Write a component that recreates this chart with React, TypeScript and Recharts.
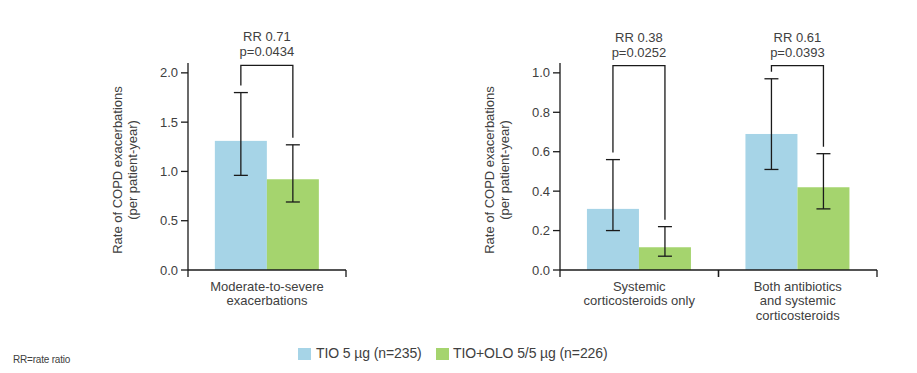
import { BarChart, Bar, XAxis, YAxis, ErrorBar } from 'recharts'

// Left panel: moderate-to-severe exacerbations
const leftCategories = [['Moderate-to-severe', 'exacerbations']]
const leftTio = [1.31]
const leftTioLow = [0.96]
const leftTioHigh = [1.8]
const leftOlo = [0.92]
const leftOloLow = [0.69]
const leftOloHigh = [1.27]
const leftRR = ['RR 0.71']
const leftP = ['p=0.0434']
const leftBracket = [2.075]
const leftTicks = [0, 0.5, 1.0, 1.5, 2.0]

// Right panel: by treatment of exacerbation
const rightCategories = [
  ['Systemic', 'corticosteroids only'],
  ['Both antibiotics', 'and systemic', 'corticosteroids'],
]
const rightTio = [0.31, 0.69]
const rightTioLow = [0.2, 0.51]
const rightTioHigh = [0.56, 0.97]
const rightOlo = [0.115, 0.42]
const rightOloLow = [0.07, 0.31]
const rightOloHigh = [0.22, 0.59]
const rightRR = ['RR 0.38', 'RR 0.61']
const rightP = ['p=0.0252', 'p=0.0393']
const rightBracket = [1.037, 1.037]
const rightTicks = [0, 0.2, 0.4, 0.6, 0.8, 1.0]

const legendLabels = ['TIO 5 µg (n=235)', 'TIO+OLO 5/5 µg (n=226)']

const BLUE = '#a6d4e7'
const GREEN = '#a5d46e'
const TEXT = '#404040'
const AXIS = '#1a1a1a'
const FONT = "'Liberation Sans', Arial, Helvetica, sans-serif"

function buildRows(
  cats: string[][], tio: number[], tioLo: number[], tioHi: number[],
  olo: number[], oloLo: number[], oloHi: number[],
  rr: string[], p: string[], bracket: number[],
) {
  return cats.map((c, i) => ({
    name: c.join('\n'),
    tio: tio[i],
    olo: olo[i],
    tioErr: [tio[i] - tioLo[i], tioHi[i] - tio[i]],
    oloErr: [olo[i] - oloLo[i], oloHi[i] - olo[i]],
    tioHigh: tioHi[i],
    oloHigh: oloHi[i],
    rr: rr[i],
    p: p[i],
    bracket: bracket[i],
  }))
}

const leftData = buildRows(leftCategories, leftTio, leftTioLow, leftTioHigh, leftOlo, leftOloLow, leftOloHigh, leftRR, leftP, leftBracket)
const rightData = buildRows(rightCategories, rightTio, rightTioLow, rightTioHigh, rightOlo, rightOloLow, rightOloHigh, rightRR, rightP, rightBracket)

// blue bar + significance bracket spanning both bars of the group
function BracketBar(props: any) {
  const { x, y, width, height, payload, fill } = props
  const scale = height / payload.tio
  const base = y + height
  const py = (v: number) => base - v * scale
  const c1 = x + width / 2
  const c2 = x + width * 1.5
  const mid = x + width
  const top = py(payload.bracket)
  const leg1 = py(payload.tioHigh) - 7
  const leg2 = py(payload.oloHigh) - 7
  return (
    <g>
      <rect x={x} y={y} width={width} height={height} fill={fill} />
      <path d={`M${c1},${leg1}V${top}H${c2}V${leg2}`} fill="none" stroke={AXIS} strokeWidth={1.3} />
      <text x={mid} y={top - 24} textAnchor="middle" fontSize={13} fill={TEXT} fontFamily={FONT}>{payload.rr}</text>
      <text x={mid} y={top - 9} textAnchor="middle" fontSize={13} fill={TEXT} fontFamily={FONT}>{payload.p}</text>
    </g>
  )
}

function CategoryTick(props: any) {
  const { x, payload, band, axisY } = props
  const lines = String(payload.value).split('\n')
  return (
    <g>
      <line x1={x - band / 2} x2={x - band / 2} y1={axisY} y2={axisY + 7} stroke={AXIS} strokeWidth={1.3} />
      <line x1={x + band / 2} x2={x + band / 2} y1={axisY} y2={axisY + 7} stroke={AXIS} strokeWidth={1.3} />
      {lines.map((l, i) => (
        <text key={i} x={x} y={axisY + 20.5 + i * 14.8} textAnchor="middle" fontSize={13} fill={TEXT} fontFamily={FONT}>
          {l}
        </text>
      ))}
    </g>
  )
}

function YTitle(props: any) {
  const vb = props.viewBox
  const cy = 170
  const left = vb.x + vb.width
  const x1 = left - 71
  const x2 = left - 56
  return (
    <g fontSize={13} fill={TEXT} fontFamily={FONT}>
      <text x={x1} y={cy} textAnchor="middle" dominantBaseline="central" transform={`rotate(-90, ${x1}, ${cy})`}>
        Rate of COPD exacerbations
      </text>
      <text x={x2} y={cy} textAnchor="middle" dominantBaseline="central" transform={`rotate(-90, ${x2}, ${cy})`}>
        (per patient-year)
      </text>
    </g>
  )
}

function Panel({ data, ticks, domainMax, width, marginLeft, marginRight }: any) {
  const height = 330
  const margin = { top: 63, right: marginRight, bottom: 10, left: marginLeft }
  const plotW = width - marginLeft - 60 - marginRight
  const band = plotW / data.length
  const axisY = height - margin.bottom - 50
  return (
    <BarChart width={width} height={height} data={data} margin={margin} barCategoryGap="17%" barGap={0}>
      <XAxis
        dataKey="name"
        height={50}
        interval={0}
        tickLine={false}
        axisLine={{ stroke: AXIS, strokeWidth: 1.3 }}
        tick={<CategoryTick band={band} axisY={axisY} />}
      />
      <YAxis
        width={60}
        domain={[0, domainMax]}
        ticks={ticks}
        tickFormatter={(v: number) => v.toFixed(1)}
        tickSize={7}
        tickMargin={3}
        tick={{ fontSize: 13, fill: TEXT, fontFamily: FONT }}
        tickLine={{ stroke: AXIS, strokeWidth: 1.3 }}
        axisLine={{ stroke: AXIS, strokeWidth: 1.3 }}
        label={{ content: <YTitle /> }}
      />
      <Bar dataKey="tio" fill={BLUE} isAnimationActive={false} shape={<BracketBar />}>
        <ErrorBar dataKey="tioErr" width={7} stroke={AXIS} strokeWidth={1.3} />
      </Bar>
      <Bar dataKey="olo" fill={GREEN} isAnimationActive={false}>
        <ErrorBar dataKey="oloErr" width={7} stroke={AXIS} strokeWidth={1.3} />
      </Bar>
    </BarChart>
  )
}

const legendText = { position: 'absolute' as const, top: -1, fontSize: 14, letterSpacing: -0.1, lineHeight: '16px', whiteSpace: 'nowrap' as const }
const swatch = { position: 'absolute' as const, top: 2, width: 13, height: 12 }

export default function App() {
  return (
    <div style={{ position: 'absolute', left: 0, top: 0, width: 917, height: 373, background: '#fff', fontFamily: FONT, color: TEXT }}>
      <div style={{ position: 'absolute', left: 0, top: 0 }}>
        <Panel data={leftData} ticks={leftTicks} domainMax={2.1} width={360} marginLeft={128} marginRight={14} />
      </div>
      <div style={{ position: 'absolute', left: 370, top: 0 }}>
        <Panel data={rightData} ticks={rightTicks} domainMax={1.05} width={530} marginLeft={130} marginRight={23} />
      </div>
      <div style={{ position: 'absolute', left: 298, top: 346, width: 330, height: 16 }}>
        <span style={{ ...swatch, left: 0, background: BLUE }} />
        <span style={{ ...legendText, left: 18 }}>{legendLabels[0]}</span>
        <span style={{ ...swatch, left: 138, background: GREEN }} />
        <span style={{ ...legendText, left: 155 }}>{legendLabels[1]}</span>
      </div>
      <div style={{ position: 'absolute', left: 13, top: 354, fontSize: 10, letterSpacing: -0.2, whiteSpace: 'nowrap' }}>
        RR=rate ratio
      </div>
    </div>
  )
}
